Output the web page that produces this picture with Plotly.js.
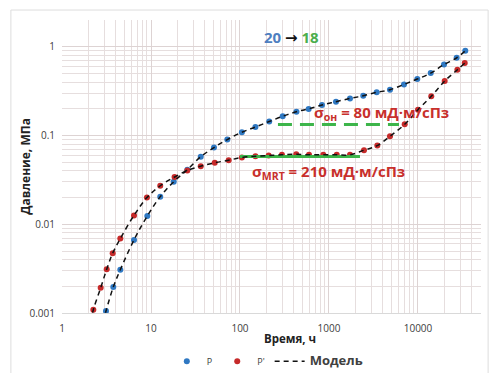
<!DOCTYPE html>
<html>
<head>
<meta charset="utf-8">
<script src="https://cdn.plot.ly/plotly-3.0.1.min.js"></script>
<style>html,body{margin:0;padding:0;background:#fff;}#chart{width:492px;height:373px;}</style>
</head>
<body>
<div id="chart"></div>
<script>
// Blue series P (time, h ; pressure, MPa)
const timeP = [3.12, 3.77, 4.52, 6.44, 9.09, 12.7, 18.0, 25.6, 36.2, 51.0, 72.0, 105, 149, 213, 302, 431, 591, 834, 1198, 1722, 2428, 3433, 4845, 6960, 9820, 13900, 19600, 27200, 34000];
const valP  = [0.00105, 0.00196, 0.00307, 0.00667, 0.0124, 0.0205, 0.0302, 0.0412, 0.0577, 0.0733, 0.0902, 0.109, 0.125, 0.144, 0.165, 0.186, 0.200, 0.221, 0.241, 0.262, 0.281, 0.307, 0.329, 0.377, 0.434, 0.506, 0.632, 0.752, 0.902];
// Red series P' (derivative)
const timeD = [2.25, 2.72, 3.18, 3.71, 4.52, 6.44, 9.0, 12.7, 18.4, 25.6, 36.2, 52, 74.6, 105, 149, 210, 296, 429, 596, 863, 1222, 1722, 2473, 3490, 4845, 7090, 10000, 14100, 19950, 27700, 33500];
const valD  = [0.00109, 0.00192, 0.00312, 0.00472, 0.0069, 0.0126, 0.0200, 0.0272, 0.0341, 0.0404, 0.0452, 0.0493, 0.0528, 0.0566, 0.0585, 0.0596, 0.0607, 0.0617, 0.0607, 0.0607, 0.0607, 0.0607, 0.0684, 0.0772, 0.0982, 0.134, 0.196, 0.277, 0.412, 0.552, 0.656];
// Model curves (black dashed)
const modelTimeP = [2.9, 3.12, 3.77, 4.52, 6.44, 9.09, 12.7, 18.0, 25.6, 36.2, 51.0, 72.0, 105, 149, 213, 302, 431, 591, 834, 1198, 1722, 2428, 3433, 4845, 6960, 9820, 13900, 19600, 27200, 34000];
const modelValP  = [0.0008, 0.00105, 0.00196, 0.00307, 0.00667, 0.0124, 0.0205, 0.0302, 0.0412, 0.0577, 0.0733, 0.0902, 0.109, 0.125, 0.144, 0.165, 0.186, 0.200, 0.221, 0.241, 0.262, 0.281, 0.307, 0.329, 0.377, 0.434, 0.506, 0.632, 0.752, 0.902];
const modelTimeD = [2.1, 2.25, 2.72, 3.18, 3.71, 4.52, 6.44, 9.0, 12.7, 18.4, 25.6, 36.2, 52, 74.6, 105, 149, 210, 296, 429, 596, 863, 1222, 1722, 2473, 3490, 4845, 7090, 10000, 14100, 19950, 27700, 33500];
const modelValD  = [0.0008, 0.00109, 0.00192, 0.00312, 0.00472, 0.0069, 0.0126, 0.0200, 0.0272, 0.0341, 0.0404, 0.0452, 0.0493, 0.0528, 0.0566, 0.0585, 0.0596, 0.0607, 0.0617, 0.0607, 0.0607, 0.0607, 0.0607, 0.0684, 0.0772, 0.0982, 0.134, 0.196, 0.277, 0.412, 0.552, 0.656];
// Green guide lines
const mrtTime = [100, 2230];
const mrtVal  = [0.058, 0.058];
const onTime  = [267, 6120];
const onVal   = [0.133, 0.133];
// Tick labels
const xTickVals = [1, 10, 100, 1000, 10000];
const xTickText = ['1', '10', '100', '1000', '10000'];
const yTickVals = [0.001, 0.01, 0.1, 1];
const yTickText = ['0.001', '0.01', '0.1', '1'];

const font = "'Open Sans', 'Noto Sans', sans-serif";
const red = '#c8302c';
const grid = '#ddd3d3';
const minorGrid = '#e6dede';

const traces = [
  {x: timeP, y: valP, type: 'scatter', mode: 'markers', name: 'P',
   marker: {color: '#2f78c2', size: 6}},
  {x: timeD, y: valD, type: 'scatter', mode: 'markers', name: "P'",
   marker: {color: '#c62a2a', size: 6}},
  {x: mrtTime, y: mrtVal, type: 'scatter', mode: 'lines', showlegend: false,
   line: {color: '#3db54a', width: 3}},
  {x: onTime, y: onVal, type: 'scatter', mode: 'lines', showlegend: false,
   line: {color: '#3db54a', width: 3, dash: '14px,8px'}},
  {x: modelTimeP, y: modelValP, type: 'scatter', mode: 'lines', name: '<b><span style="font-size:13px">Модель</span></b>',
   line: {color: '#111', width: 1.5, dash: '5px,4px', shape: 'spline'}},
  {x: modelTimeD, y: modelValD, type: 'scatter', mode: 'lines', showlegend: false,
   line: {color: '#111', width: 1.5, dash: '5px,4px', shape: 'spline'}}
];

const layout = {
  width: 492, height: 373,
  margin: {l: 62, r: 11, t: 20, b: 60, autoexpand: false},
  paper_bgcolor: '#fff', plot_bgcolor: '#fff',
  font: {family: font, color: '#404040', size: 10},
  showlegend: true,
  legend: {orientation: 'h', x: 0.49, xanchor: 'center', y: -0.165, yanchor: 'middle',
           font: {size: 9, color: '#404040'}, itemwidth: 30, tracegroupgap: 0},
  xaxis: {type: 'log', range: [0, 4.708], tickmode: 'array', tickvals: xTickVals, ticktext: xTickText,
          showgrid: true, gridcolor: grid, gridwidth: 1,
          minor: {tickmode: 'linear', dtick: 'D1', showgrid: true, gridcolor: minorGrid, gridwidth: 1},
          zeroline: false, showline: true, linecolor: '#d9d9d9', ticks: '',
          tickfont: {size: 10, color: '#404040'}, ticklabelstandoff: 6},
  yaxis: {type: 'log', range: [-3, 0.303], tickmode: 'array', tickvals: yTickVals, ticktext: yTickText,
          showgrid: true, gridcolor: grid, gridwidth: 1,
          minor: {tickmode: 'linear', dtick: 'D1', showgrid: true, gridcolor: minorGrid, gridwidth: 1},
          zeroline: false, showline: false, ticks: '',
          tickfont: {size: 10, color: '#404040'}, ticklabelstandoff: 6},
  shapes: [
    {type: 'rect', xref: 'paper', yref: 'paper', x0: -0.122, x1: 1.017, y0: -0.3, y1: 1.034,
     line: {color: '#dddddd', width: 1}, fillcolor: 'rgba(0,0,0,0)', layer: 'below'}
  ],
  annotations: [
    {xref: 'paper', yref: 'paper', x: -0.088, y: 0.5, xanchor: 'center', yanchor: 'middle',
     text: '<b>Давление, МПа</b>', textangle: -90,
     showarrow: false, font: {size: 12, color: '#222'}},
    {xref: 'paper', yref: 'paper', x: 0.543, y: -0.088, xanchor: 'center', yanchor: 'middle',
     text: '<b>Время, ч</b>',
     showarrow: false, font: {size: 11.5, color: '#222'}},
    {xref: 'paper', yref: 'paper', x: 0.547, y: 0.942, xanchor: 'center', yanchor: 'middle',
     text: '<b><span style="color:#4f7fc0">20</span> <span style="color:#111;font-family:DejaVu Sans">→</span> <span style="color:#4cae4c">18</span></b>',
     showarrow: false, font: {size: 15, color: '#4f7fc0', family: font}},
    {xref: 'paper', yref: 'paper', x: 0.597, y: 0.683, xanchor: 'left', yanchor: 'middle',
     text: '<b>σ<sub>он</sub> = 80 мД·м/сПз</b>',
     showarrow: false, font: {size: 15, color: red}},
    {xref: 'paper', yref: 'paper', x: 0.449, y: 0.481, xanchor: 'left', yanchor: 'middle',
     text: '<b>σ<sub>MRT</sub> = 210 мД·м/сПз</b>',
     showarrow: false, font: {size: 15, color: red}}
  ]
};

Plotly.newPlot('chart', traces, layout, {displayModeBar: false, staticPlot: true});
</script>
</body>
</html>
